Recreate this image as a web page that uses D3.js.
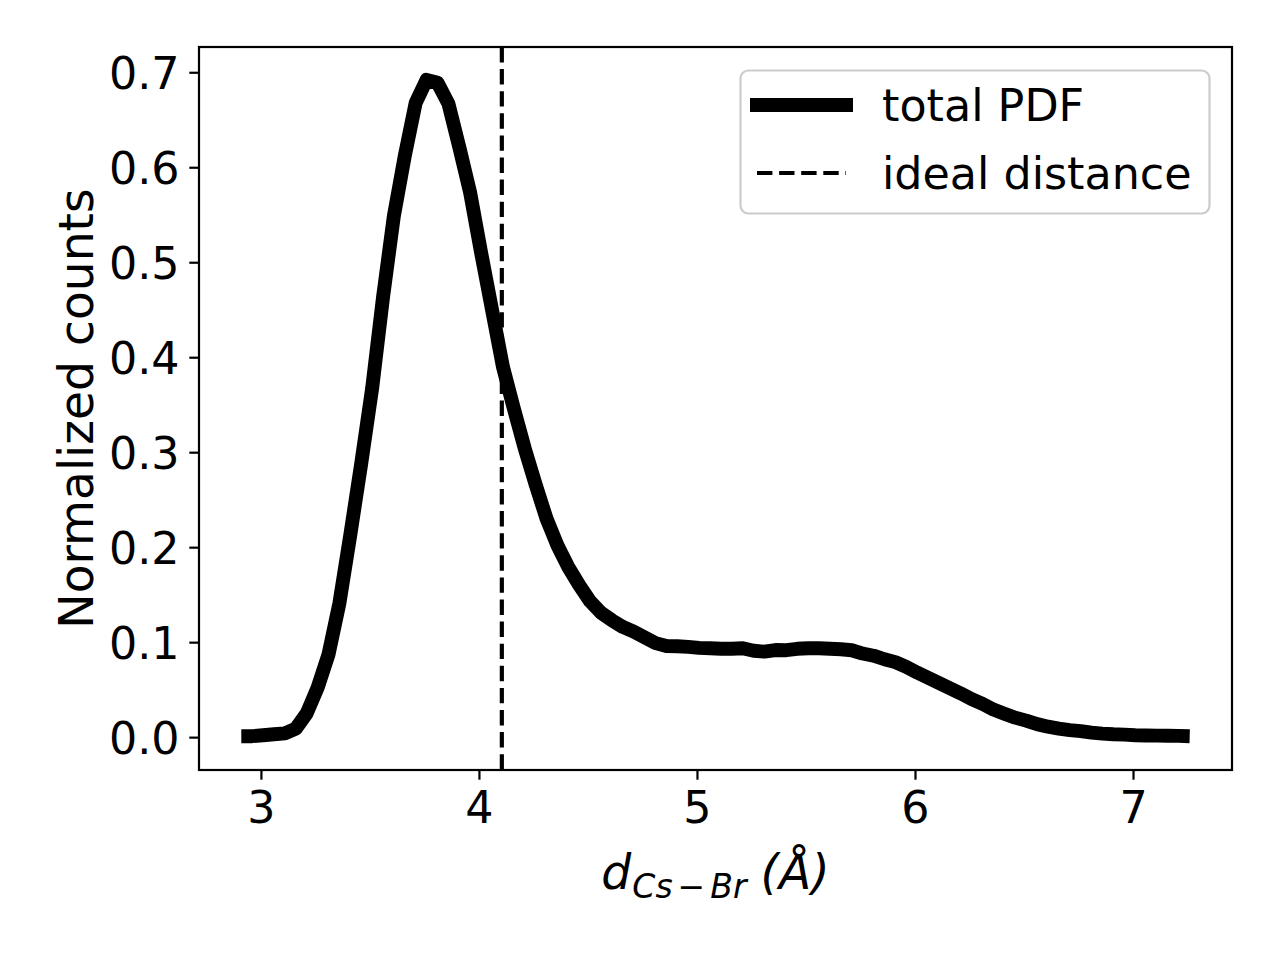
<!DOCTYPE html>
<html>
<head>
<meta charset="utf-8">
<script src="https://cdn.jsdelivr.net/npm/d3@7"></script>
<style>
  body { margin: 0; background: #fff; }
  svg { display: block; }
  text { font-family: "DejaVu Sans", sans-serif; }
</style>
</head>
<body>
<svg id="chart"></svg>
<script>
// distance grid (Å) and normalized counts
var dist = [2.91, 2.96, 3.01, 3.06, 3.11, 3.16, 3.21, 3.26, 3.31, 3.36,
            3.41, 3.46, 3.51, 3.56, 3.61, 3.66, 3.71, 3.76, 3.81, 3.86,
            3.91, 3.96, 4.01, 4.06, 4.11, 4.16, 4.21, 4.26, 4.31, 4.36,
            4.41, 4.46, 4.51, 4.56, 4.61, 4.66, 4.71, 4.76, 4.81, 4.86,
            4.91, 4.96, 5.01, 5.06, 5.11, 5.16, 5.21, 5.26, 5.31, 5.36,
            5.41, 5.46, 5.51, 5.56, 5.61, 5.66, 5.71, 5.76, 5.81, 5.86,
            5.91, 5.96, 6.01, 6.06, 6.11, 6.16, 6.21, 6.26, 6.31, 6.36,
            6.41, 6.46, 6.51, 6.56, 6.61, 6.66, 6.71, 6.76, 6.81, 6.86,
            6.91, 6.96, 7.01, 7.06, 7.11, 7.16, 7.21, 7.26];
var pdf = [0.001, 0.001, 0.002, 0.003, 0.004, 0.009, 0.025, 0.052, 0.087, 0.141,
           0.213, 0.288, 0.367, 0.463, 0.549, 0.612, 0.668, 0.692, 0.689, 0.667,
           0.621, 0.573, 0.510, 0.450, 0.390, 0.346, 0.304, 0.266, 0.230, 0.202,
           0.179, 0.160, 0.143, 0.131, 0.123, 0.116, 0.111, 0.105, 0.099, 0.096,
           0.0957, 0.095, 0.094, 0.0936, 0.093, 0.093, 0.0936, 0.091, 0.090, 0.0917,
           0.0915, 0.093, 0.0936, 0.0936, 0.093, 0.0925, 0.0915, 0.088, 0.0857, 0.082,
           0.079, 0.074, 0.068, 0.0626, 0.057, 0.0515, 0.046, 0.040, 0.035, 0.029,
           0.0247, 0.0205, 0.0174, 0.0137, 0.011, 0.009, 0.0074, 0.0063, 0.0047, 0.0037,
           0.003, 0.0026, 0.002, 0.0018, 0.0016, 0.0014, 0.0013, 0.001];
var idealDist = 4.105;
var xTicks = [3, 4, 5, 6, 7];
var yTicks = [0.0, 0.1, 0.2, 0.3, 0.4, 0.5, 0.6, 0.7];
var legendNames = ["total PDF", "ideal distance"];

var svgWidth = 1280, svgHeight = 960;
var fs = 44.4;            // tick + legend text
var fsLabel = 47.2;       // axis labels
var margin = {top: 47, right: 48, bottom: 190, left: 199};

var svg = d3.select("#chart")
  .attr("width", svgWidth)
  .attr("height", svgHeight);

var x = d3.scaleLinear()
  .domain([2.716, 7.454])
  .range([margin.left, svgWidth - margin.right]);

var y = d3.scaleLinear()
  .domain([-0.0346, 0.7266])
  .range([svgHeight - margin.bottom, margin.top]);

var data = dist.map((d, i) => ({x: d, y: pdf[i]}));

// curve
var line = d3.line().x(d => x(d.x)).y(d => y(d.y));
svg.append("path")
  .datum(data)
  .attr("d", line)
  .attr("fill", "none")
  .attr("stroke", "#000")
  .attr("stroke-width", 13.9)
  .attr("stroke-linejoin", "round")
  .attr("stroke-linecap", "butt");

// ideal distance
svg.append("line")
  .attr("x1", x(idealDist)).attr("x2", x(idealDist))
  .attr("y1", y.range()[1]).attr("y2", y.range()[0])
  .attr("stroke", "#000")
  .attr("stroke-width", 4.17)
  .attr("stroke-dasharray", "15.4,6.7");

// axes
var xAxis = svg.append("g")
  .attr("transform", `translate(0,${svgHeight - margin.bottom})`)
  .call(d3.axisBottom(x).tickValues(xTicks).tickFormat(d3.format("d")).tickSizeOuter(0).tickSize(9.7).tickPadding(9.7));

var yAxis = svg.append("g")
  .attr("transform", `translate(${margin.left},0)`)
  .call(d3.axisLeft(y).tickValues(yTicks).tickFormat(d3.format(".1f")).tickSizeOuter(0).tickSize(9.7).tickPadding(9.7));

[xAxis, yAxis].forEach(g => {
  g.select(".domain").remove();
  g.selectAll(".tick line").attr("stroke", "#000").attr("stroke-width", 2.2);
  g.selectAll(".tick text")
    .attr("fill", "#000")
    .style("font-size", fs + "px")
    .style("font-family", "DejaVu Sans");
});
xAxis.selectAll(".tick text").attr("dy", "0.76em");
yAxis.selectAll(".tick text").attr("dy", "0.36em");

// frame
svg.append("rect")
  .attr("x", x.range()[0]).attr("y", y.range()[1])
  .attr("width", x.range()[1] - x.range()[0])
  .attr("height", y.range()[0] - y.range()[1])
  .attr("fill", "none")
  .attr("stroke", "#000")
  .attr("stroke-width", 2.2);

// axis labels
var xl = svg.append("text")
  .attr("x", (x.range()[0] + x.range()[1]) / 2)
  .attr("y", 889)
  .attr("text-anchor", "middle")
  .style("font-size", fsLabel + "px")
  .style("font-style", "italic");
xl.append("tspan").text("d");
var sub = fsLabel * 0.7 + "px";
xl.append("tspan").style("font-size", sub).attr("dx", 1).attr("dy", 9).text("Cs");
xl.append("tspan").style("font-size", sub).attr("dx", 5).text("\u2212");
xl.append("tspan").style("font-size", sub).attr("dx", 5).text("Br");
xl.append("tspan").attr("dx", 14).attr("dy", -9).text("(\u00c5)");

svg.append("text")
  .attr("transform", `translate(93,${(y.range()[0] + y.range()[1]) / 2}) rotate(-90)`)
  .attr("text-anchor", "middle")
  .style("font-size", fsLabel + "px")
  .text("Normalized counts");

// legend
var lg = svg.append("g");
lg.append("rect")
  .attr("x", 740.5).attr("y", 70.5)
  .attr("width", 469).attr("height", 143)
  .attr("rx", 8).attr("ry", 8)
  .attr("fill", "#fff").attr("fill-opacity", 0.8)
  .attr("stroke", "#cccccc").attr("stroke-width", 2.2);

var rowY = [105, 173];
lg.append("line")
  .attr("x1", 750).attr("x2", 853)
  .attr("y1", rowY[0]).attr("y2", rowY[0])
  .attr("stroke", "#000").attr("stroke-width", 13.9);
lg.append("line")
  .attr("x1", 757).attr("x2", 846)
  .attr("y1", rowY[1]).attr("y2", rowY[1])
  .attr("stroke", "#000").attr("stroke-width", 4.17)
  .attr("stroke-dasharray", "15.4,6.7");

lg.selectAll("text.lab")
  .data(legendNames)
  .enter()
  .append("text")
  .attr("class", "lab")
  .attr("x", 882)
  .attr("y", (d, i) => rowY[i])
  .attr("dy", "0.36em")
  .style("font-size", fs + "px")
  .text(d => d);
</script>
</body>
</html>
